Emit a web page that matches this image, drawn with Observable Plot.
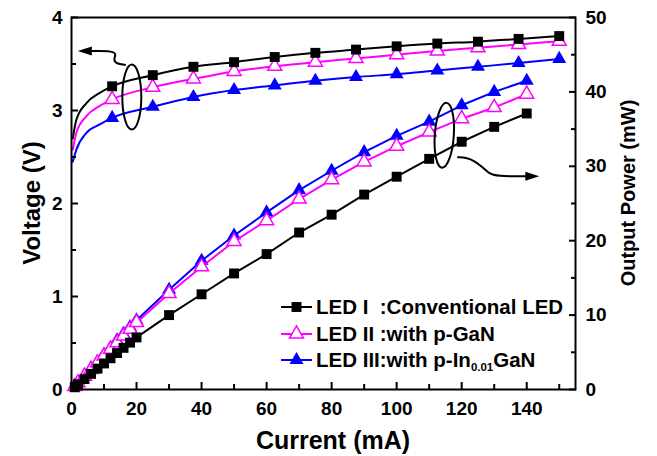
<!DOCTYPE html>
<html><head><meta charset="utf-8">
<script src="https://cdn.jsdelivr.net/npm/d3@7"></script>
<script src="https://cdn.jsdelivr.net/npm/@observablehq/plot@0.6"></script>
<style>
body{margin:0;background:#fff;}
#wrap{position:relative;width:657px;height:456px;font-family:"Liberation Sans",Arial,sans-serif;}
#legend{position:absolute;left:280px;top:294px;font-weight:bold;font-size:20.5px;color:#000;}
.row{display:flex;align-items:center;height:26.5px;white-space:pre;}
.row svg{margin-right:3px;}
.sub{font-size:11.5px;position:relative;top:7px;}
</style></head><body><div id="wrap"></div>
<script>
// ---- data ----
const seriesNames = ["LED I", "LED II", "LED III"];
const legendMain = ["LED I  :Conventional LED", "LED II :with p-GaN", "LED III:with p-In"];
const legendSub = ["", "", "0.01"];
const legendTail = ["", "", "GaN"];
const colors = ["#000000", "#ff00ff", "#0000ff"];
const xTitle = "Current (mA)";
const yTitle = "Voltage (V)";
const y2Title = "Output Power (mW)";

const voltLowCurrent = [0.4, 1.5, 4.6, 8.7];
const voltLowLED1 = [2.70, 2.90, 3.08, 3.19];
const voltLowLED2 = [2.58, 2.76, 2.94, 3.05];
const voltLowLED3 = [2.45, 2.58, 2.76, 2.85];

const voltMarkCurrent = [12.5, 25, 37.5, 50, 62.5, 75, 87.5, 100, 112.5, 125, 137.5, 150];
const voltLED1 = [3.26, 3.38, 3.47, 3.52, 3.575, 3.62, 3.655, 3.69, 3.72, 3.74, 3.77, 3.80];
const voltLED2 = [3.12, 3.25, 3.34, 3.42, 3.475, 3.52, 3.56, 3.60, 3.64, 3.675, 3.71, 3.745];
const voltLED3 = [2.92, 3.04, 3.145, 3.22, 3.27, 3.32, 3.36, 3.39, 3.43, 3.47, 3.51, 3.555];

const powerCurrent = [1, 2, 4, 6, 8, 10, 12, 14, 16, 18, 20, 30, 40, 50, 60, 70, 80, 90, 100, 110, 120, 130, 140];
const powerLED1 = [0.3, 0.7, 1.4, 2.1, 2.8, 3.5, 4.2, 4.9, 5.6, 6.3, 7.0, 10.0, 12.8, 15.6, 18.2, 21.1, 23.5, 26.2, 28.6, 31.0, 33.3, 35.3, 37.1];
const powerLED2 = [0.4, 0.9, 1.8, 2.7, 3.6, 4.5, 5.4, 6.3, 7.2, 8.1, 9.0, 12.9, 16.5, 19.9, 22.7, 25.6, 28.2, 30.6, 32.7, 34.6, 36.4, 37.9, 39.7];
const powerLED3 = [0.4, 0.9, 1.9, 2.8, 3.7, 4.7, 5.6, 6.6, 7.5, 8.4, 9.3, 13.4, 17.3, 20.7, 23.8, 26.8, 29.4, 31.9, 34.1, 36.0, 38.2, 40.0, 41.5];

const xMajor = [0, 20, 40, 60, 80, 100, 120, 140];
const xMinor = [10, 30, 50, 70, 90, 110, 130, 150];
const vMajor = [0, 1, 2, 3, 4];
const vMinor = [0.5, 1.5, 2.5, 3.5];
const pMajor = [0, 10, 20, 30, 40, 50];
const pMinor = [5, 15, 25, 35, 45];

const vMax = 4, pMax = 50, k = vMax / pMax; // power drawn on voltage scale
const xMax = 155;

// ---- build tables ----
const vLow = [voltLowLED1, voltLowLED2, voltLowLED3];
const vMark = [voltLED1, voltLED2, voltLED3];
const pw = [powerLED1, powerLED2, powerLED3];
const series = seriesNames.map((name, i) => ({
  name, color: colors[i],
  vLine: voltLowCurrent.map((c, j) => ({c, v: vLow[i][j]})).concat(voltMarkCurrent.map((c, j) => ({c, v: vMark[i][j]}))),
  vMarks: voltMarkCurrent.map((c, j) => ({c, v: vMark[i][j]})),
  power: powerCurrent.map((c, j) => ({c, p: pw[i][j]}))
}));
const symbols = ["square", "triangle", "triangle"];
const fills = ["#000000", "#ffffff", "#0000ff"];
const radii = [5.6, 5.2, 5.2];

const marks = [];
for (const i of [2, 1, 0]) {
  const s = series[i];
  marks.push(Plot.line(s.vLine, {x: "c", y: "v", stroke: s.color, strokeWidth: 2, curve: "monotone-x"}));
  marks.push(Plot.line(s.power, {x: "c", y: d => d.p * k, stroke: s.color, strokeWidth: 2}));
  const dotOpts = {symbol: symbols[i], r: radii[i], fill: fills[i], stroke: i === 1 ? s.color : "none", strokeWidth: 1.5};
  marks.push(Plot.dot(s.vMarks, {x: "c", y: "v", ...dotOpts}));
  marks.push(Plot.dot(s.power, {x: "c", y: d => d.p * k, ...dotOpts}));
}

const tickStyle = {fill: "none", stroke: "#000", strokeWidth: 2, label: null};
const textStyle = {tickSize: 0, fontSize: 19, fontWeight: "bold", fill: "#000", label: null};

const plot = Plot.plot({
  width: 657, height: 456,
  marginLeft: 71, marginRight: 82, marginTop: 17, marginBottom: 67,
  style: {fontFamily: "'Liberation Sans', Arial, sans-serif", background: "#fff", color: "#000"},
  x: {domain: [0, xMax]},
  y: {domain: [0, vMax]},
  marks: [
    ...marks,
    Plot.frame({stroke: "#000", strokeWidth: 2}),
    // inward ticks
    Plot.axisX({ticks: xMajor, anchor: "bottom", tickSize: 7, dy: -7, ...tickStyle}),
    Plot.axisX({ticks: xMinor, anchor: "bottom", tickSize: 5, dy: -5, ...tickStyle}),
    Plot.axisY({ticks: vMajor, anchor: "left", tickSize: 7, dx: 7, ...tickStyle}),
    Plot.axisY({ticks: vMinor, anchor: "left", tickSize: 5, dx: 5, ...tickStyle}),
    Plot.axisY({ticks: pMajor.map(p => p * k), anchor: "right", tickSize: 7, dx: -7, ...tickStyle}),
    Plot.axisY({ticks: pMinor.map(p => p * k), anchor: "right", tickSize: 5, dx: -5, ...tickStyle}),
    // tick labels
    Plot.axisX({ticks: xMajor, anchor: "bottom", tickPadding: 12, tickFormat: d3.format("d"), ...textStyle}),
    Plot.axisY({ticks: vMajor, anchor: "left", tickPadding: 9, tickFormat: d3.format("d"), ...textStyle}),
    Plot.axisY({ticks: pMajor.map(p => p * k), anchor: "right", tickPadding: 10, tickFormat: d => String(Math.round(d / k)), ...textStyle})
  ]
});

const wrap = document.getElementById("wrap");
wrap.appendChild(plot);

const svg = d3.select(plot);
const W = 657, H = 456, mL = 71, mR = 82, mT = 17, mB = 67;
const midY = (mT + H - mB) / 2;
// axis titles
const titles = svg.append("g").attr("font-weight", "bold").attr("fill", "#000").attr("text-anchor", "middle");
titles.append("text").text(xTitle).attr("x", (mL + W - mR) / 2 + 10).attr("y", H - mB + 51).attr("dy", "0.35em").attr("font-size", 25);
titles.append("text").text(yTitle).attr("transform", `translate(${mL - 39},${midY}) rotate(-90)`).attr("dy", "0.35em").attr("font-size", 24);
titles.append("text").text(y2Title).attr("transform", `translate(${W - mR + 53},${midY - 10}) rotate(-90)`).attr("dy", "0.35em").attr("font-size", 20);

// ---- annotations (ellipses + arrows), anchored in data coordinates ----
const sx = plot.scale("x"), sy = plot.scale("y");
const ann = svg.append("g").attr("fill", "none").attr("stroke", "#000").attr("stroke-width", 2);
const ellipseCenters = [{c: 18.7, v: 3.14, rot: 0}, {c: 114.8, v: 34.1 * k, rot: 4}];
const arrowPaths = [
  "M-6,-32 C-14,-33 -19,-34 -17,-40 C-15,-45 -20,-46 -32,-46 L-42,-46",
  "M13,22 C26,21 34,28 44,37 C50,41 58,41 82,41"
];
const arrowHeads = ["M-54,-46 L-40,-50.5 L-40,-41.5 Z", "M95,41 L81,36.5 L81,45.5 Z"];
ellipseCenters.forEach((e, i) => {
  const g = ann.append("g").attr("transform", `translate(${sx.apply(e.c)},${sy.apply(e.v)})`);
  g.append("ellipse").attr("rx", 9.5).attr("ry", 32.5).attr("transform", `rotate(${e.rot})`);
  g.append("path").attr("d", arrowPaths[i]);
  g.append("path").attr("d", arrowHeads[i]).attr("fill", "#000").attr("stroke", "none");
});

// ---- legend ----
const legend = document.createElement("div");
legend.id = "legend";
series.forEach((s, i) => {
  const row = document.createElement("div");
  row.className = "row";
  const sw = d3.create("svg").attr("width", 33).attr("height", 20);
  sw.append("line").attr("x1", 1).attr("x2", 32).attr("y1", 10).attr("y2", 10).attr("stroke", s.color).attr("stroke-width", 2);
  const symType = symbols[i] === "square" ? d3.symbolSquare : d3.symbolTriangle;
  sw.append("path").attr("d", d3.symbol(symType, Math.PI * radii[i] * radii[i])())
    .attr("transform", "translate(16.5,10)").attr("fill", fills[i])
    .attr("stroke", i === 1 ? s.color : "none").attr("stroke-width", 1.5);
  row.appendChild(sw.node());
  const span = document.createElement("span");
  span.textContent = legendMain[i];
  row.appendChild(span);
  if (legendSub[i]) {
    const sub = document.createElement("span");
    sub.className = "sub"; sub.textContent = legendSub[i];
    row.appendChild(sub);
    const tail = document.createElement("span");
    tail.textContent = legendTail[i];
    row.appendChild(tail);
  }
  legend.appendChild(row);
});
wrap.appendChild(legend);
</script>
</body></html>
